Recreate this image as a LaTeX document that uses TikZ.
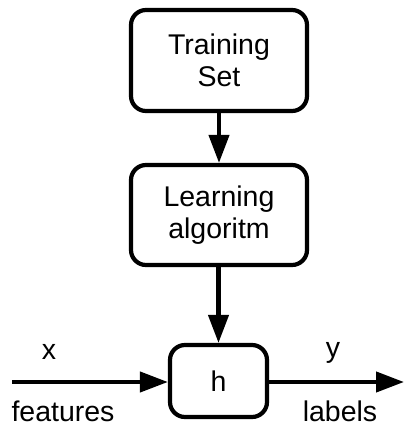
\documentclass[tikz,border=0pt]{standalone}
\usepackage{fontspec}
\setmainfont{Liberation Sans}
\usetikzlibrary{arrows.meta}
\begin{document}
\begin{tikzpicture}[x=1pt,y=-1pt,
  box/.style={draw,line width=4.2pt,rounded corners=15pt,align=center,font=\fontsize{28.5}{32}\selectfont,inner sep=0pt},
  conn/.style={line width=4.2pt,-{Triangle[length=28pt,width=20pt]}},
  lbl/.style={font=\fontsize{28.5}{32}\selectfont,inner sep=0pt}]
\useasboundingbox (0,0) rectangle (404,426);
\node[box,minimum width=176pt,minimum height=101pt] (ts) at (219,60.5) {Training\\Set};
\node[box,minimum width=176pt,minimum height=100pt] (la) at (219,215) {Learning\\algoritm};
\node[box,minimum width=97pt,minimum height=72pt] (h) at (218.5,381) {h};
\coordinate (in) at (12,382);
\coordinate (out) at (404,382);
\draw[conn] (ts) -- (la);
\draw[conn] (la.south -| h.north) -- (h.north);
\draw[conn] (in) -- (h.west |- in);
\draw[conn] (h.east |- out) -- (out);
\node[lbl] (x) at (49,352) {x};
\node[lbl] (y) at (333,353) {y};
\node[lbl] (f) at (63,411) {features};
\node[lbl] (l) at (340,411) {labels};
\end{tikzpicture}
\end{document}
